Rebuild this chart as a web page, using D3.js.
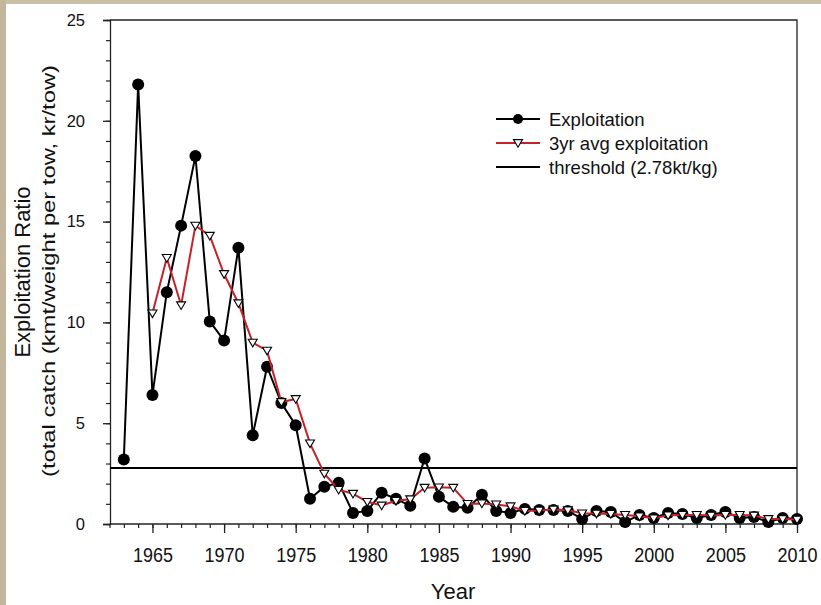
<!DOCTYPE html>
<html><head><meta charset="utf-8">
<script src="https://cdn.jsdelivr.net/npm/d3@7"></script>
<style>body{margin:0;background:#fff}svg{display:block;font-family:"Liberation Sans",Arial,sans-serif}</style>
</head><body>
<svg id="c" width="821" height="605"></svg>
<script>
const years = d3.range(1963, 2011);
const exploitation = [3.2,21.8,6.4,11.5,14.8,18.25,10.05,9.1,13.7,4.4,7.8,6.0,4.9,1.25,1.85,2.05,0.55,0.65,1.55,1.25,0.9,3.25,1.35,0.85,0.8,1.45,0.65,0.55,0.75,0.7,0.7,0.65,0.25,0.65,0.6,0.1,0.45,0.3,0.55,0.5,0.3,0.45,0.6,0.3,0.35,0.1,0.3,0.25];
const avgYears = d3.range(1965, 2011);
const avgExploitation = [10.45,13.2,10.85,14.8,14.3,12.4,10.95,9.0,8.6,6.05,6.2,4.0,2.5,1.7,1.5,1.1,0.92,1.15,1.23,1.8,1.82,1.8,1.0,1.02,0.97,0.88,0.65,0.67,0.72,0.68,0.53,0.52,0.5,0.45,0.38,0.28,0.43,0.45,0.45,0.42,0.45,0.45,0.42,0.25,0.25,0.22];
const threshold = 2.78;
const yMajor = [0,5,10,15,20,25];
const xMajor = [1965,1970,1975,1980,1985,1990,1995,2000,2005,2010];
const legendLabels = ["Exploitation","3yr avg exploitation","threshold (2.78kt/kg)"];

const svg = d3.select("#c");
svg.append("rect").attr("x",0).attr("y",0).attr("width",821).attr("height",4).attr("fill","#cbbfa6");
svg.append("rect").attr("x",0).attr("y",0).attr("width",6).attr("height",605).attr("fill","#c4b69c");

const x = d3.scaleLinear().domain([1962,2010]).range([109.5,797]);
const y = d3.scaleLinear().domain([0,25]).range([524,20]);

// y axis
const gy = svg.append("g").attr("transform","translate(110,0)");
gy.call(d3.axisLeft(y).tickValues(d3.range(0,26,1)).tickSize(4).tickFormat(""));
gy.call(g=>g.select(".domain").remove());
gy.selectAll("line").attr("stroke","#222").attr("stroke-width",1.2);
const gy2 = svg.append("g").attr("transform","translate(110,0)");
gy2.call(d3.axisLeft(y).tickValues(yMajor).tickSize(7).tickPadding(18).tickFormat(d3.format("d")));
gy2.selectAll("text").attr("font-size",16.5).attr("fill","#111").attr("font-family","Liberation Sans, Arial");
gy2.selectAll("line,path").attr("stroke","#222").attr("stroke-width",1.3);

// x axis
const gx = svg.append("g").attr("transform","translate(0,524)");
gx.call(d3.axisBottom(x).tickValues(d3.range(1962,2011,1)).tickSize(4).tickFormat(""));
gx.call(g=>g.select(".domain").remove());
gx.selectAll("line").attr("stroke","#222").attr("stroke-width",1.2);
const gx2 = svg.append("g").attr("transform","translate(0,524)");
gx2.call(d3.axisBottom(x).tickValues(xMajor).tickSize(9).tickPadding(14).tickFormat(d3.format("d")));
gx2.select(".domain").attr("d","M110,0H797");
gx2.selectAll("line,path").attr("stroke","#222").attr("stroke-width",1.3);
gx2.selectAll("text").attr("font-size",18).attr("fill","#111").attr("font-family","Liberation Sans, Arial")
  .attr("transform","translate(0,-2) scale(1,1.12)");

// frame top & right
svg.append("path").attr("d",`M110,${y(25)}H797V${y(0)}`).attr("fill","none").attr("stroke","#222").attr("stroke-width",1.3);

// threshold
svg.append("line").attr("x1",110).attr("x2",797).attr("y1",y(threshold)).attr("y2",y(threshold)).attr("stroke","#000").attr("stroke-width",2);

// exploitation
const exData = years.map((yr,i)=>({yr, v:exploitation[i]}));
svg.append("path").datum(exData)
  .attr("d", d3.line().x(d=>x(d.yr)).y(d=>y(d.v)))
  .attr("fill","none").attr("stroke","#000").attr("stroke-width",2);
svg.append("g").selectAll("circle").data(exData).join("circle")
  .attr("cx",d=>x(d.yr)).attr("cy",d=>y(d.v)).attr("r",6).attr("fill","#000");

// 3yr avg
const avData = avgYears.map((yr,i)=>({yr, v:avgExploitation[i]}));
svg.append("path").datum(avData)
  .attr("d", d3.line().x(d=>x(d.yr)).y(d=>y(d.v)))
  .attr("fill","none").attr("stroke","#c4222a").attr("stroke-width",2);
const tri = (cx,cy,s)=>`M${cx-s},${cy-s*0.75}L${cx+s},${cy-s*0.75}L${cx},${cy+s*0.95}Z`;
svg.append("g").selectAll("path").data(avData).join("path")
  .attr("d",d=>tri(x(d.yr),y(d.v),4.5)).attr("fill","#fff").attr("stroke","#000").attr("stroke-width",1.1);

// legend
const lg = svg.append("g");
const rows = [119,143,167];
lg.append("line").attr("x1",496).attr("x2",540).attr("y1",rows[0]).attr("y2",rows[0]).attr("stroke","#000").attr("stroke-width",2);
lg.append("circle").attr("cx",518).attr("cy",rows[0]).attr("r",5).attr("fill","#000");
lg.append("line").attr("x1",496).attr("x2",540).attr("y1",rows[1]).attr("y2",rows[1]).attr("stroke","#c4222a").attr("stroke-width",2);
lg.append("path").attr("d",tri(518,rows[1],4.5)).attr("fill","#fff").attr("stroke","#000").attr("stroke-width",1.1);
lg.append("line").attr("x1",496).attr("x2",540).attr("y1",rows[2]).attr("y2",rows[2]).attr("stroke","#000").attr("stroke-width",2);
lg.selectAll("text.l").data(legendLabels).join("text").attr("class","l")
  .attr("x",549).attr("y",(d,i)=>rows[i]+6.5).attr("font-size",18.5).attr("fill","#111").text(d=>d);

// axis titles
svg.append("text").attr("x",453).attr("y",599).attr("text-anchor","middle").attr("font-size",22).attr("fill","#111").text("Year");
svg.append("text").attr("transform","translate(30,272) rotate(-90)").attr("text-anchor","middle")
  .attr("font-size",22).attr("fill","#111").text("Exploitation Ratio");
svg.append("text").attr("transform","translate(55,271) rotate(-90)").attr("text-anchor","middle")
  .attr("font-size",19).attr("fill","#111").attr("textLength",412).attr("lengthAdjust","spacingAndGlyphs")
  .text("(total catch (kmt/weight per tow, kr/tow)");
</script>
</body></html>
